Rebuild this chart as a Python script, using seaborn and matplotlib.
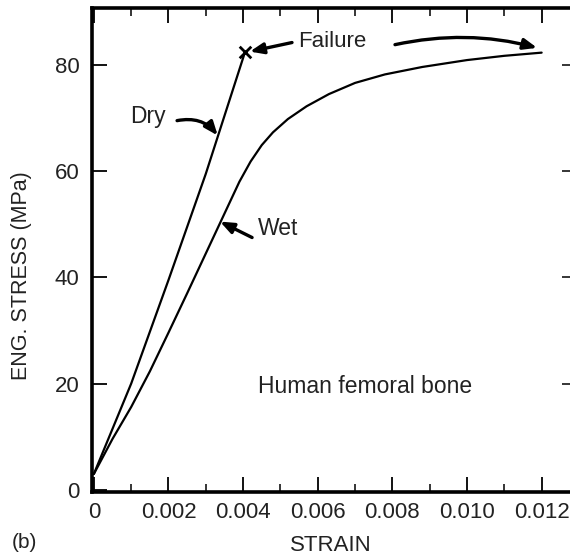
import matplotlib
matplotlib.use("Agg")
import matplotlib.pyplot as plt
import pandas as pd
import seaborn as sns

# values
dry_strain = [0.0, 0.0005, 0.0010, 0.0020, 0.0030, 0.00405]
dry_stress = [3.0, 11.5, 20.0, 39.5, 59.5, 82.4]

wet_strain = [0.0, 0.0005, 0.0010, 0.0015, 0.0020, 0.0025, 0.0030, 0.0035, 0.0039,
              0.0042, 0.0045, 0.0048, 0.0052, 0.0057, 0.0063, 0.0070, 0.0078,
              0.0088, 0.0100, 0.0110, 0.0120]
wet_stress = [3.0, 9.6, 15.6, 22.3, 29.6, 37.0, 44.5, 52.0, 58.0,
              61.8, 64.9, 67.3, 69.8, 72.2, 74.5, 76.6, 78.2,
              79.6, 80.9, 81.7, 82.3]

x_ticks = [0, 0.002, 0.004, 0.006, 0.008, 0.010, 0.012]
x_tick_labels = ["0", "0.002", "0.004", "0.006", "0.008", "0.010", "0.012"]
y_ticks = [0, 20, 40, 60, 80]

dry = pd.DataFrame({"strain": dry_strain, "stress": dry_stress})
wet = pd.DataFrame({"strain": wet_strain, "stress": wet_stress})

sns.set_style("ticks")
plt.rcParams["font.family"] = ["Liberation Sans", "DejaVu Sans"]
txt = "#222222"

fig = plt.figure(figsize=(5.70, 5.56), dpi=100)
ax = fig.add_axes([0.1614, 0.1151, 0.8386, 0.8705])

sns.lineplot(data=dry, x="strain", y="stress", color="black", lw=1.6, ax=ax)
sns.lineplot(data=wet, x="strain", y="stress", color="black", lw=1.6, ax=ax)
sns.scatterplot(x=[dry_strain[-1]], y=[dry_stress[-1]], marker="x", s=70,
                color="black", linewidth=2, ax=ax, zorder=5)

ax.set_xlim(-0.00005, 0.01276)
ax.set_ylim(-0.4, 90.7)

ax.set_xticks(x_ticks)
ax.set_xticklabels(x_tick_labels)
ax.set_xticks([0.001, 0.003, 0.005, 0.007, 0.009, 0.011], minor=True)
ax.set_yticks(y_ticks)

ax.tick_params(axis="both", which="major", direction="in", labelsize=16,
               colors="black", labelcolor=txt, width=1.3)
ax.tick_params(axis="x", which="major", length=11, top=True, pad=7)
ax.tick_params(axis="x", which="minor", length=6, top=True, direction="in", width=1.3)
ax.tick_params(axis="y", which="major", length=11, right=False, pad=9)

# short ticks on the right side only (the right spine is cut off)
ax2 = ax.twinx()
ax2.set_ylim(ax.get_ylim())
ax2.set_yticks(y_ticks[1:])
ax2.tick_params(axis="y", direction="in", length=6, width=1.3, labelright=False)
for s in ax2.spines.values():
    s.set_visible(False)

for side in ["left", "bottom", "top"]:
    ax.spines[side].set_visible(True)
    ax.spines[side].set_linewidth(2.6)
    ax.spines[side].set_color("black")
ax.spines["right"].set_visible(False)

ax.set_xlabel("STRAIN", fontsize=16, color=txt)
ax.set_ylabel("ENG. STRESS (MPa)", fontsize=15.5, color=txt)
ax.xaxis.set_label_coords(0.5, -0.088)
ax.yaxis.set_label_coords(-0.125, 0.448)

ax.text(0.00097, 70.2, "Dry", fontsize=16.5, color=txt, va="center")
ax.text(0.0044, 49.2, "Wet", fontsize=16.5, color=txt, va="center")
ax.text(0.00547, 84.4, "Failure", fontsize=16, color=txt, va="center")
ax.text(0.0044, 19.4, "Human femoral bone", fontsize=16.5, color=txt, va="center")
fig.text(0.02, 0.025, "(b)", fontsize=15, color=txt, va="center")

arrow = dict(arrowstyle="-|>,head_length=0.8,head_width=0.32", color="black",
             lw=2.4, shrinkA=0, shrinkB=0)
ax.annotate("", xy=(0.00418, 82.5), xytext=(0.00531, 84.2),
            arrowprops=dict(arrow, connectionstyle="arc3,rad=0"))
ax.annotate("", xy=(0.01188, 83.2), xytext=(0.00807, 83.8),
            arrowprops=dict(arrow, connectionstyle="arc3,rad=-0.12"))
ax.annotate("", xy=(0.00332, 66.7), xytext=(0.00223, 69.5),
            arrowprops=dict(arrow, connectionstyle="arc3,rad=-0.3"))
ax.annotate("", xy=(0.00338, 50.5), xytext=(0.00424, 47.5),
            arrowprops=dict(arrow, connectionstyle="arc3,rad=0"))

fig.savefig("out.png", dpi=100)
